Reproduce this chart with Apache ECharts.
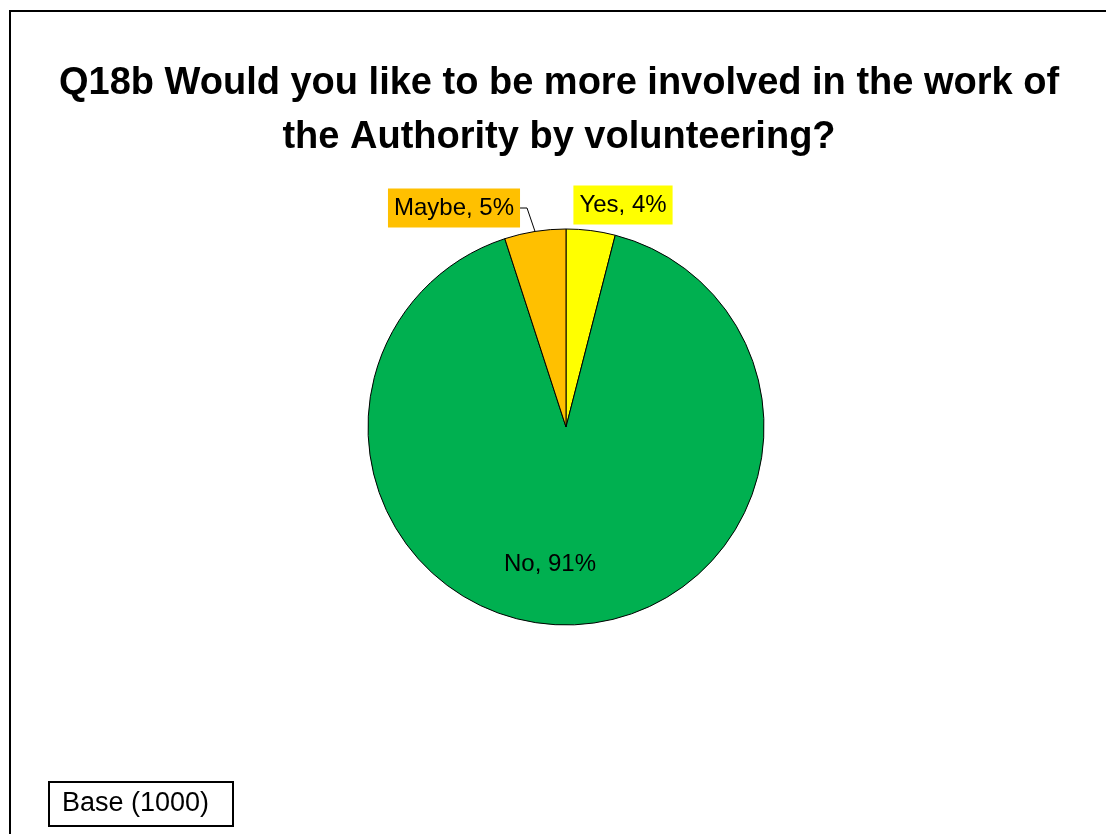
<!DOCTYPE html>
<html>
<head>
<meta charset="utf-8">
<title>Q18b volunteering</title>
<script src="https://cdn.jsdelivr.net/npm/echarts@6/dist/echarts.min.js"></script>
<style>
  html, body { margin: 0; padding: 0; background: #ffffff; }
  #chart { width: 1106px; height: 834px; }
</style>
</head>
<body>
<div id="chart"></div>
<script>
// Answers, in clockwise order from 12 o'clock
const categories = ['Yes', 'No', 'Maybe'];
const percentages = [4, 91, 5];
const sliceColors = ['#FFFF00', '#00B050', '#FFC000'];

const titleText = 'Q18b Would you like to be more involved in the work of\nthe Authority by volunteering?';
const baseText = 'Base (1000)';

// Pie geometry (pixels)
const CX = 566, CY = 427, R = 198;

// Where each data label sits (label centre, pixels)
const labelPlacement = {
  Yes:   { x: 623, y: 205 },
  No:    { x: 550, y: 564 },
  Maybe: { x: 454, y: 208 }
};

// Angle (degrees clockwise from 12 o'clock) at the middle of a slice
function midAngle(index) {
  const total = percentages.reduce((a, b) => a + b, 0);
  let before = 0;
  for (let i = 0; i < index; i++) before += percentages[i];
  return (before + percentages[index] / 2) / total * 360;
}

const chart = echarts.init(document.getElementById('chart'), null, { renderer: 'canvas' });

const seriesData = categories.map((name, i) => ({
  name: name,
  value: percentages[i],
  itemStyle: { color: sliceColors[i] },
  label: i === 1
    ? { backgroundColor: 'transparent' }
    : { backgroundColor: sliceColors[i], padding: [8, 6, 7, 6] },
  labelLine: { show: name === 'Maybe' }
}));

chart.setOption({
  animation: false,
  backgroundColor: '#ffffff',
  title: [
    {
      text: titleText,
      left: 559,
      top: 57,
      textAlign: 'center',
      padding: 0,
      textStyle: {
        fontFamily: 'Liberation Sans, Arial, sans-serif',
        fontWeight: 'bold',
        fontSize: 38,
        lineHeight: 54,
        color: '#000000'
      }
    },
    {
      text: baseText,
      left: 49,
      top: 782,
      borderColor: '#000000',
      borderWidth: 2,
      padding: [9, 24, 9, 13],
      textStyle: {
        fontFamily: 'Liberation Sans, Arial, sans-serif',
        fontWeight: 'normal',
        fontSize: 27,
        lineHeight: 26,
        color: '#000000'
      }
    }
  ],
  graphic: [
    {
      type: 'rect',
      shape: { x: 10, y: 11, width: 1120, height: 840 },
      style: { fill: 'none', stroke: '#000000', lineWidth: 2 },
      silent: true,
      z: 10
    }
  ],
  series: [
    {
      type: 'pie',
      center: [CX, CY],
      radius: [0, R],
      startAngle: 90,
      clockwise: true,
      avoidLabelOverlap: false,
      data: seriesData,
      itemStyle: { borderColor: '#000000', borderWidth: 1 },
      label: {
        show: true,
        position: 'outside',
        formatter: '{b}, {c}%',
        fontFamily: 'Liberation Sans, Arial, sans-serif',
        fontSize: 24,
        lineHeight: 24,
        color: '#000000'
      },
      labelLine: {
        lineStyle: { color: '#000000', width: 1 }
      },
      emphasis: { disabled: true },
      labelLayout: function (params) {
        const name = categories[params.dataIndex];
        const p = labelPlacement[name];
        const out = { x: p.x, y: p.y, align: 'center', verticalAlign: 'middle' };
        if (name === 'Maybe') {
          const a = midAngle(params.dataIndex) * Math.PI / 180;
          const edge = [CX + R * Math.sin(a), CY - R * Math.cos(a)];
          const rightEdge = p.x + params.labelRect.width / 2;
          out.labelLinePoints = [edge, [rightEdge + 7, p.y], [rightEdge, p.y]];
        }
        return out;
      }
    }
  ]
});
</script>
</body>
</html>
